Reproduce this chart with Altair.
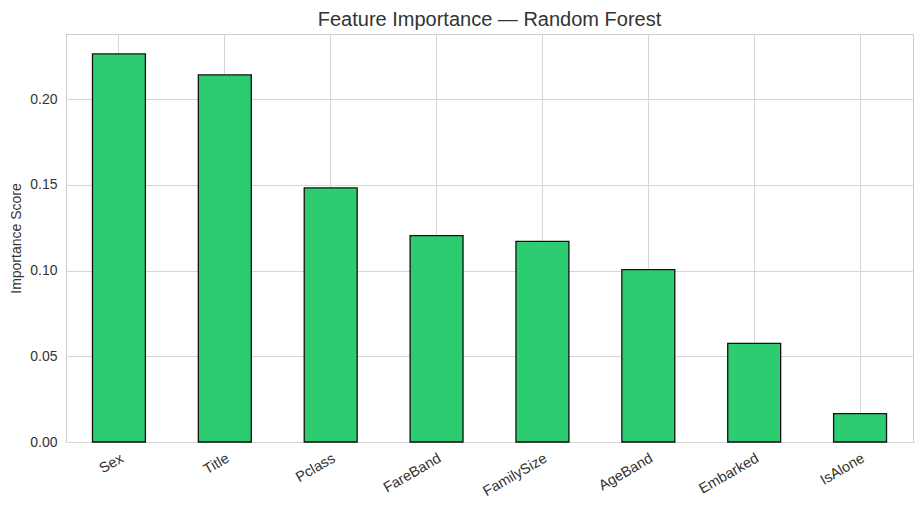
import altair as alt
import pandas as pd

features = ["Sex", "Title", "Pclass", "FareBand", "FamilySize", "AgeBand", "Embarked", "IsAlone"]
importance = [0.2264, 0.2141, 0.1482, 0.1204, 0.1170, 0.1005, 0.0575, 0.0165]
y_ticks = [0.0, 0.05, 0.10, 0.15, 0.20]

df = pd.DataFrame({"feature": features, "importance": importance})

FONT = "Liberation Sans"

chart = alt.Chart(df).mark_bar(
    color="#2ecc71", stroke="#111111", strokeWidth=1.3
).encode(
    x=alt.X("feature:N", sort=features, title=None,
            scale=alt.Scale(paddingInner=0.5, paddingOuter=0.25),
            axis=alt.Axis(labelAngle=-30, labelAlign="right", labelBaseline="top",
                          labelPadding=9, ticks=False, domain=False, grid=True,
                          bandPosition=0.5, gridColor="#d6d6d6",
                          labelFontSize=14.5, labelColor="#333333", labelFont=FONT)),
    y=alt.Y("importance:Q", title="Importance Score",
            scale=alt.Scale(domain=[0, 0.238], nice=False),
            axis=alt.Axis(values=y_ticks, format=".2f", ticks=False, domain=False,
                          gridColor="#d6d6d6", labelPadding=9, titlePadding=6,
                          labelFontSize=14, labelColor="#333333", labelFont=FONT,
                          titleFontSize=14, titleFontWeight="normal", titleColor="#333333",
                          titleFont=FONT)),
).properties(
    width=847, height=408,
    autosize=alt.AutoSizeParams(type="none"),
    padding={"left": 58, "top": 26, "right": 1, "bottom": 60},
    title=alt.TitleParams("Feature Importance — Random Forest", fontSize=20,
                          fontWeight="normal", color="#333333", font=FONT, offset=4,
                          anchor="middle"),
).configure_view(stroke="#cccccc", strokeWidth=1)

chart.save("out.html", embed_options={"renderer": "svg", "actions": False})
